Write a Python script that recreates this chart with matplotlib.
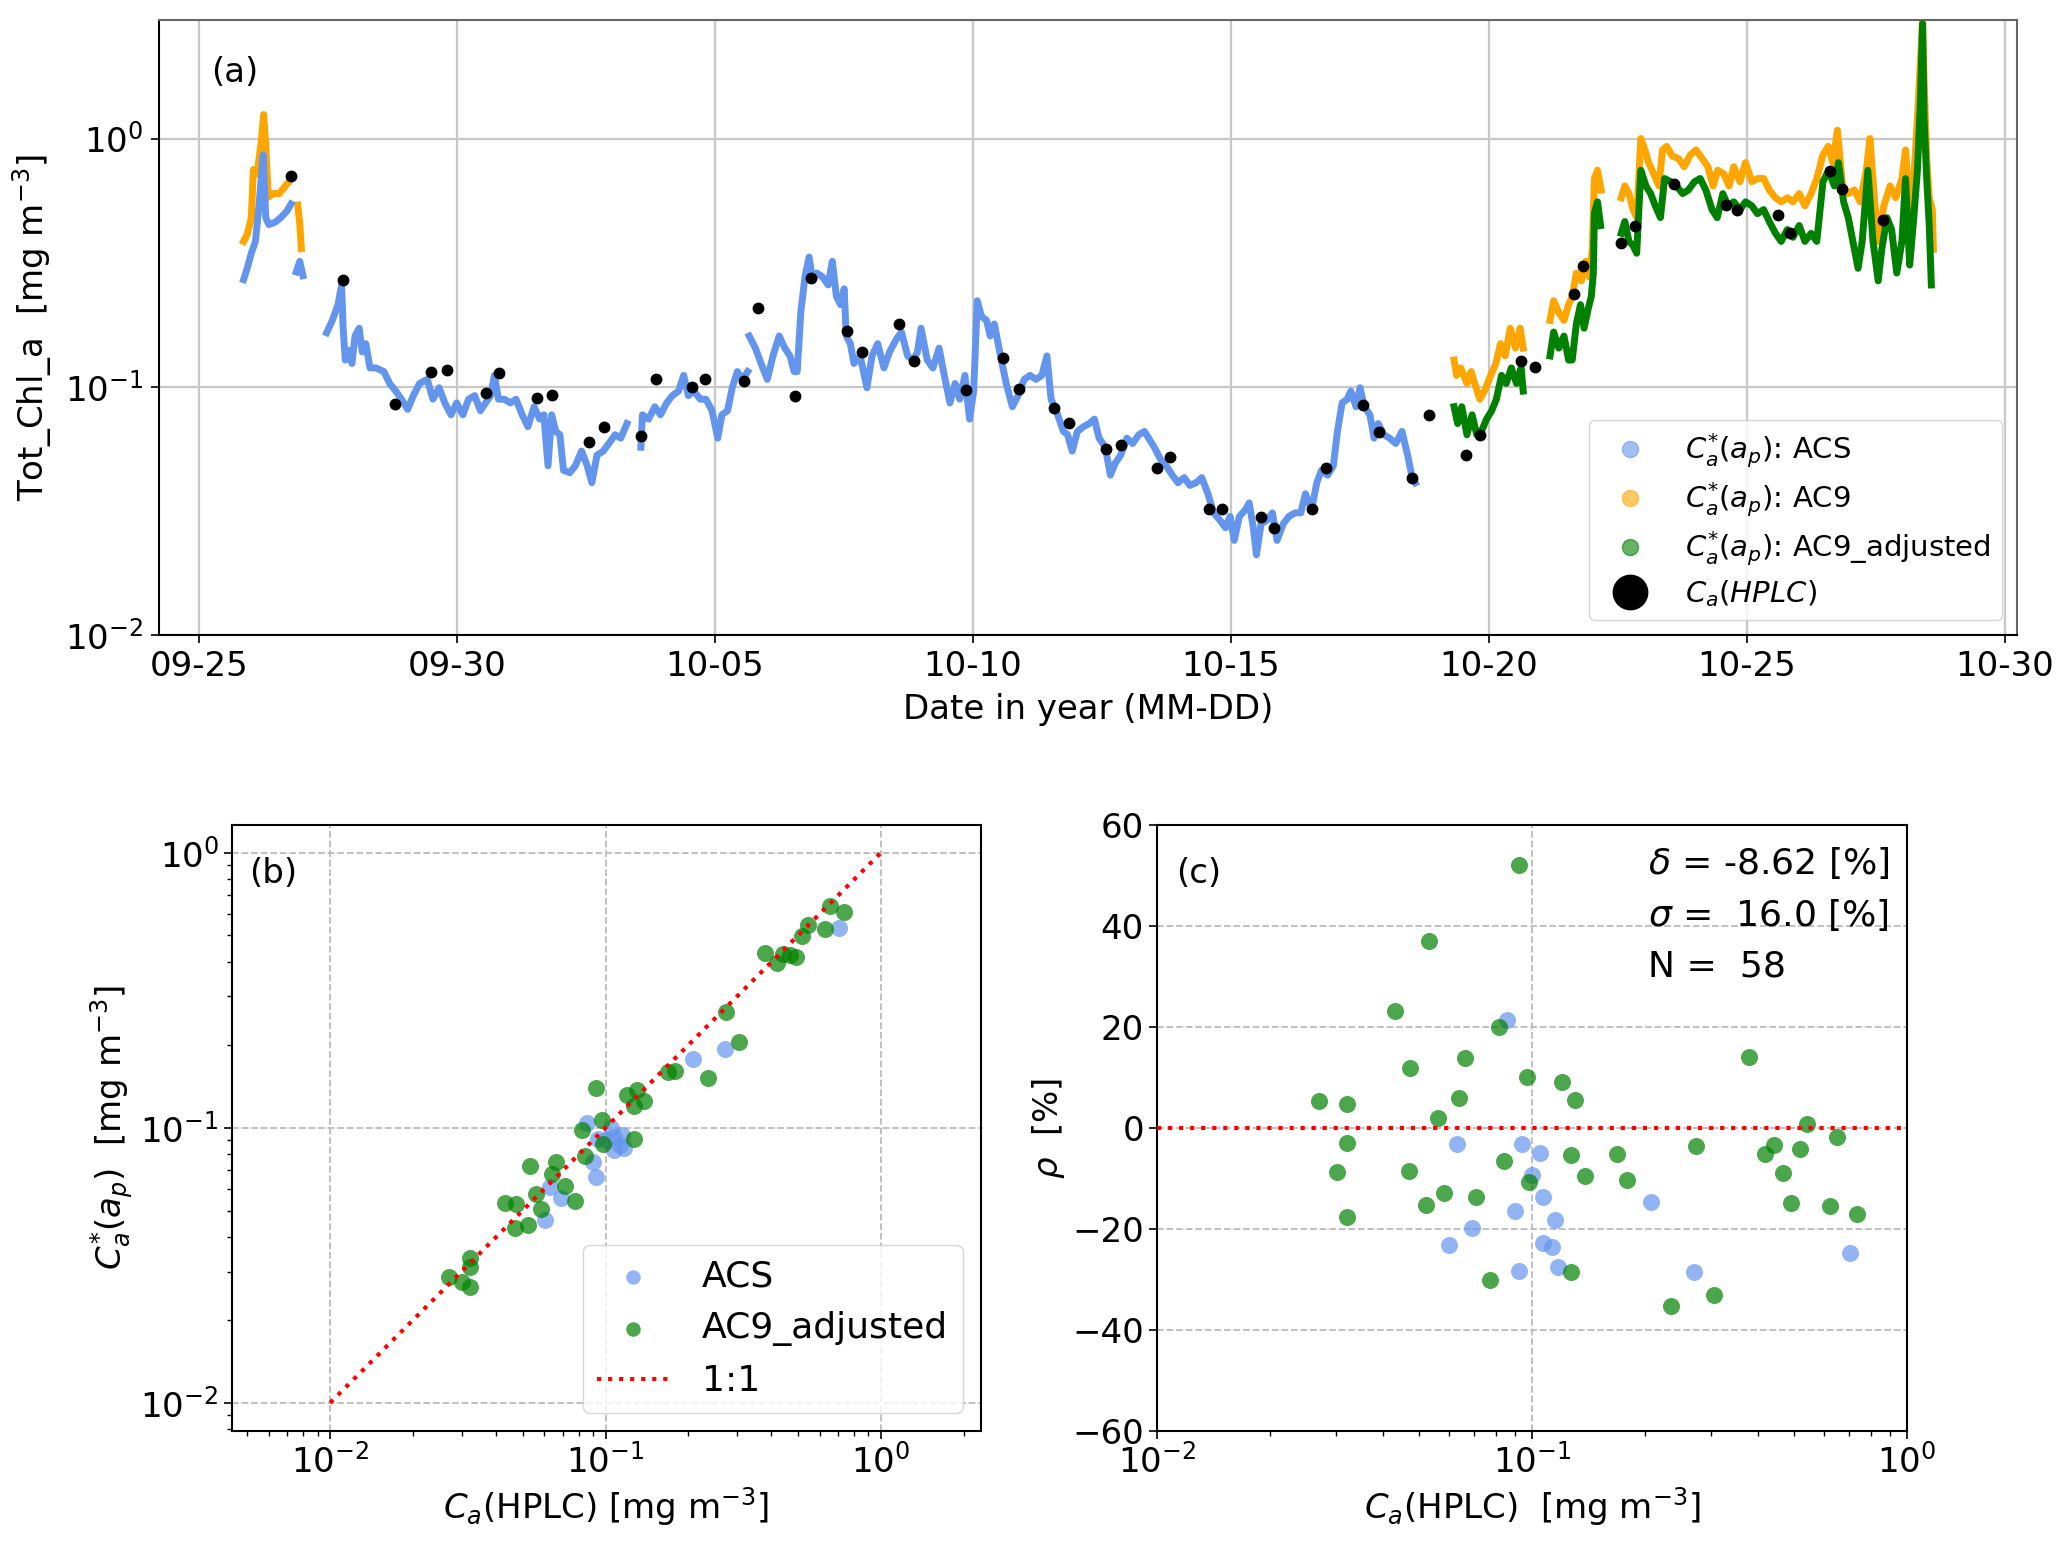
import numpy as np
import pandas as pd
import matplotlib
matplotlib.use('Agg')
import matplotlib.pyplot as plt
import matplotlib.dates as mdates
from matplotlib.lines import Line2D
from matplotlib.ticker import NullLocator

# ---- panel (a): time series, days since 2018-09-25 00:00, values in mg m-3
# each series is a list of continuous segments (days, values)
acs_segments = [
    ([0.87, 0.94, 1.02, 1.10, 1.17, 1.25, 1.30, 1.36, 1.48, 1.59, 1.71, 1.79],
     [0.27, 0.30, 0.345, 0.385, 0.54, 0.86, 0.48, 0.45, 0.46, 0.48, 0.51, 0.545]),
    ([1.89, 1.96, 2.02],
     [0.29, 0.32, 0.28]),
    ([2.48, 2.59, 2.70, 2.77, 2.80, 2.84, 2.90, 2.97, 3.03, 3.11, 3.17, 3.24, 3.32, 3.43,
      3.59, 3.70, 3.82, 3.93, 4.05, 4.16, 4.28, 4.43, 4.54, 4.66, 4.77, 4.89, 5.00, 5.12,
      5.23, 5.35, 5.46, 5.56, 5.66, 5.73, 5.81, 5.92, 6.04, 6.15, 6.27, 6.38, 6.50, 6.61,
      6.69, 6.77, 6.84, 6.92, 7.00, 7.07, 7.19, 7.30, 7.42, 7.53, 7.62, 7.72, 7.84, 7.95,
      8.07, 8.18, 8.30],
     [0.165, 0.185, 0.214, 0.257, 0.172, 0.128, 0.14, 0.124, 0.16, 0.172, 0.138, 0.149,
      0.119, 0.119, 0.115, 0.103, 0.096, 0.089, 0.081, 0.092, 0.103, 0.107, 0.089, 0.099,
      0.086, 0.077, 0.086, 0.077, 0.089, 0.092, 0.080, 0.086, 0.092, 0.111, 0.089, 0.089,
      0.086, 0.089, 0.077, 0.069, 0.083, 0.074, 0.077, 0.048, 0.077, 0.066, 0.064, 0.046,
      0.045, 0.048, 0.055, 0.048, 0.041, 0.053, 0.055, 0.059, 0.064, 0.062, 0.071]),
    ([8.57, 8.60, 8.72, 8.84, 8.95, 9.07, 9.18, 9.30, 9.40, 9.49, 9.60, 9.72, 9.83, 9.95,
      10.06, 10.14, 10.25, 10.34, 10.44, 10.54, 10.64],
     [0.057, 0.077, 0.074, 0.083, 0.077, 0.086, 0.092, 0.096, 0.111, 0.092, 0.096, 0.089,
      0.089, 0.080, 0.062, 0.077, 0.080, 0.099, 0.115, 0.107, 0.115]),
    ([10.67, 10.79, 10.90, 11.02, 11.13, 11.25, 11.36, 11.46, 11.54, 11.60, 11.67, 11.75,
      11.83, 11.90, 11.98, 12.09, 12.20, 12.28, 12.36, 12.44, 12.51, 12.55, 12.63, 12.70,
      12.82, 12.95, 13.05, 13.16, 13.28, 13.39, 13.51, 13.62, 13.74, 13.85, 13.93, 14.00,
      14.12, 14.23, 14.35, 14.45, 14.56, 14.66, 14.75, 14.85, 14.94, 15.02, 15.09, 15.17,
      15.27, 15.34, 15.42, 15.54, 15.65, 15.77, 15.88, 16.00, 16.11, 16.23, 16.34, 16.44,
      16.52, 16.62, 16.76, 16.84, 16.93, 17.03, 17.15, 17.26, 17.36, 17.45, 17.57, 17.67,
      17.76, 17.87, 17.99, 18.10, 18.22, 18.33, 18.41, 18.52, 18.64, 18.75, 18.87, 18.98,
      19.10, 19.21, 19.33, 19.44, 19.56, 19.67, 19.79, 19.90, 19.99, 20.07, 20.17, 20.29,
      20.36, 20.44, 20.50, 20.59, 20.71, 20.81, 20.90, 21.02, 21.13, 21.25, 21.36, 21.45,
      21.57, 21.67, 21.76, 21.88, 21.99, 22.07, 22.16, 22.26, 22.33, 22.43, 22.51, 22.59,
      22.70, 22.78, 22.86, 22.97, 23.08, 23.20, 23.32, 23.43, 23.51, 23.58],
     [0.16, 0.143, 0.124, 0.107, 0.133, 0.16, 0.143, 0.133, 0.115, 0.115, 0.20, 0.277,
      0.333, 0.267, 0.287, 0.277, 0.257, 0.32, 0.231, 0.214, 0.248, 0.16, 0.149, 0.124,
      0.133, 0.099, 0.133, 0.149, 0.119, 0.138, 0.154, 0.166, 0.133, 0.128, 0.138, 0.172,
      0.128, 0.119, 0.143, 0.111, 0.086, 0.103, 0.089, 0.111, 0.074, 0.096, 0.222, 0.192,
      0.185, 0.16, 0.179, 0.133, 0.103, 0.083, 0.092, 0.107, 0.111, 0.107, 0.111, 0.133,
      0.089, 0.080, 0.066, 0.064, 0.055, 0.066, 0.069, 0.071, 0.074, 0.062, 0.057, 0.044,
      0.049, 0.053, 0.062, 0.059, 0.064, 0.066, 0.062, 0.057, 0.051, 0.048, 0.044, 0.041,
      0.043, 0.040, 0.041, 0.043, 0.037, 0.031, 0.029, 0.027, 0.030, 0.024, 0.030, 0.032,
      0.034, 0.027, 0.021, 0.028, 0.029, 0.031, 0.024, 0.028, 0.030, 0.031, 0.031, 0.037,
      0.032, 0.041, 0.046, 0.044, 0.048, 0.066, 0.086, 0.089, 0.096, 0.083, 0.099, 0.083,
      0.077, 0.062, 0.071, 0.064, 0.062, 0.059, 0.066, 0.053, 0.044, 0.041]),
]

ac9_segments = [
    ([0.87, 0.94, 1.02, 1.06, 1.13, 1.21, 1.26, 1.30, 1.35, 1.44, 1.56, 1.67, 1.75],
     [0.385, 0.41, 0.48, 0.75, 0.72, 0.96, 1.25, 0.93, 0.58, 0.60, 0.60, 0.64, 0.67]),
    ([1.92, 1.96, 1.99],
     [0.54, 0.45, 0.36]),
    ([24.33, 24.38, 24.46, 24.58, 24.66, 24.73, 24.83, 24.92, 25.04, 25.14, 25.23, 25.32,
      25.42, 25.52, 25.61, 25.67],
     [0.128, 0.111, 0.119, 0.103, 0.115, 0.103, 0.089, 0.096, 0.111, 0.124, 0.149, 0.133,
      0.172, 0.143, 0.172, 0.143]),
    ([26.19, 26.26, 26.36, 26.46, 26.55, 26.62, 26.70, 26.80, 26.88, 26.95, 27.01, 27.05,
      27.11, 27.18],
     [0.185, 0.222, 0.199, 0.185, 0.214, 0.231, 0.287, 0.267, 0.32, 0.277, 0.358, 0.69,
      0.745, 0.62]),
    ([27.57, 27.64, 27.72, 27.80, 27.87, 27.95, 28.03, 28.10, 28.20, 28.30, 28.37, 28.45,
      28.56, 28.68, 28.79, 28.91, 29.02, 29.14, 29.25, 29.35, 29.44, 29.56, 29.66, 29.75,
      29.87, 29.98, 30.10, 30.21, 30.33, 30.44, 30.56, 30.67, 30.79, 30.90, 31.02, 31.13,
      31.25, 31.36, 31.48, 31.58, 31.67, 31.76, 31.86, 31.97, 32.09, 32.20, 32.32, 32.39,
      32.47, 32.55, 32.66, 32.78, 32.89, 33.01, 33.08, 33.16, 33.24, 33.31, 33.37, 33.41,
      33.44, 33.49, 33.54, 33.60, 33.62],
     [0.577, 0.644, 0.60, 0.517, 0.48, 1.0, 0.90, 0.80, 0.72, 0.644, 0.90, 0.93,
      0.85, 0.83, 0.77, 0.86, 0.90, 0.83, 0.77, 0.644, 0.745, 0.72, 0.644, 0.77,
      0.67, 0.80, 0.67, 0.69, 0.69, 0.62, 0.577, 0.556, 0.577, 0.556, 0.60, 0.536,
      0.60, 0.69, 0.86, 0.93, 0.80, 1.08, 0.644, 0.60, 0.62, 0.556, 0.745, 1.0,
      0.60, 0.385, 0.536, 0.644, 0.577, 0.69, 0.90, 0.517, 0.69, 1.2, 2.08, 3.0,
      1.73, 0.83, 0.577, 0.517, 0.358]),
]

ac9adj_segments = [
    ([24.33, 24.40, 24.48, 24.58, 24.68, 24.77, 24.86, 24.96, 25.06, 25.15, 25.25, 25.34,
      25.44, 25.54, 25.63, 25.67],
     [0.083, 0.071, 0.083, 0.064, 0.077, 0.064, 0.066, 0.074, 0.080, 0.089, 0.111, 0.103,
      0.119, 0.103, 0.119, 0.096]),
    ([26.19, 26.26, 26.36, 26.46, 26.55, 26.62, 26.70, 26.78, 26.85, 26.93, 26.99, 27.03,
      27.05, 27.11, 27.17],
     [0.133, 0.166, 0.143, 0.16, 0.128, 0.128, 0.179, 0.214, 0.172, 0.206, 0.231, 0.287,
      0.50, 0.556, 0.446]),
    ([27.57, 27.64, 27.72, 27.80, 27.87, 27.95, 28.05, 28.14, 28.23, 28.33, 28.41, 28.53,
      28.64, 28.76, 28.87, 28.99, 29.10, 29.21, 29.33, 29.43, 29.54, 29.64, 29.75, 29.87,
      29.98, 30.10, 30.21, 30.33, 30.44, 30.56, 30.67, 30.79, 30.90, 31.02, 31.13, 31.25,
      31.36, 31.48, 31.59, 31.70, 31.78, 31.88, 31.97, 32.06, 32.16, 32.24, 32.35, 32.45,
      32.55, 32.62, 32.72, 32.81, 32.91, 33.01, 33.08, 33.16, 33.24, 33.31, 33.37, 33.41,
      33.44, 33.49, 33.54, 33.58],
     [0.415, 0.463, 0.385, 0.37, 0.345, 0.745, 0.644, 0.60, 0.536, 0.48, 0.69, 0.67,
      0.644, 0.60, 0.62, 0.67, 0.69, 0.62, 0.517, 0.48, 0.60, 0.536, 0.556, 0.517,
      0.556, 0.536, 0.498, 0.517, 0.463, 0.415, 0.385, 0.43, 0.40, 0.446, 0.385, 0.415,
      0.385, 0.67, 0.745, 0.644, 0.80, 0.556, 0.48, 0.385, 0.30, 0.385, 0.745, 0.385,
      0.267, 0.358, 0.48, 0.43, 0.287, 0.385, 0.69, 0.309, 0.48, 0.745, 1.44, 2.9,
      1.2, 0.69, 0.446, 0.257]),
]

hplc_days = [1.79, 2.80, 3.80, 4.51, 4.81, 5.56, 5.82, 6.56, 6.85, 7.57, 7.85, 8.57, 8.87,
             9.56, 9.82, 10.57, 10.84, 11.56, 11.87, 12.57, 12.85, 13.57, 13.86, 14.87,
             15.58, 15.90, 16.58, 16.87, 17.58, 17.88, 18.58, 18.83, 19.58, 19.84, 20.58,
             20.84, 21.57, 21.84, 22.57, 22.87, 23.51, 23.84, 24.56, 24.83, 25.62, 25.89,
             26.65, 26.83, 27.57, 27.84, 28.60, 29.60, 29.82, 30.61, 30.85, 31.62, 31.84,
             32.64]
hplc_vals = [0.706, 0.27, 0.0851, 0.115, 0.117, 0.094, 0.113, 0.090, 0.0923, 0.0598, 0.0689,
             0.0632, 0.107, 0.100, 0.107, 0.105, 0.208, 0.0916, 0.273, 0.168, 0.138, 0.179,
             0.127, 0.0968, 0.130, 0.098, 0.0817, 0.0711, 0.056, 0.058, 0.047, 0.0521, 0.032,
             0.032, 0.0299, 0.0269, 0.032, 0.047, 0.0841, 0.0658, 0.043, 0.077, 0.0528, 0.064,
             0.127, 0.120, 0.237, 0.306, 0.381, 0.443, 0.656, 0.542, 0.517, 0.493, 0.418,
             0.738, 0.625, 0.470]

# ---- panels (b) and (c): matchups
acs_hplc = [0.0855, 0.0631, 0.094, 0.105, 0.100, 0.107, 0.208, 0.0898, 0.115, 0.0692,
            0.0601, 0.107, 0.113, 0.0923, 0.117, 0.271, 0.705]
acs_est = [0.1038, 0.0611, 0.0911, 0.0999, 0.0906, 0.0924, 0.178, 0.0751, 0.0941, 0.0555,
           0.0462, 0.0827, 0.0863, 0.0661, 0.0847, 0.193, 0.531]
acs_rho = [21.4, -3.2, -3.1, -4.9, -9.4, -13.6, -14.6, -16.4, -18.2, -19.8,
           -23.2, -22.7, -23.6, -28.4, -27.6, -28.6, -24.7]

adj_hplc = [0.0923, 0.0531, 0.0432, 0.0818, 0.0661, 0.0472, 0.0968, 0.120, 0.130, 0.380,
            0.0271, 0.0321, 0.0640, 0.0561, 0.542, 0.0321, 0.274, 0.652, 0.442, 0.418,
            0.518, 0.127, 0.168, 0.0841, 0.0301, 0.0471, 0.138, 0.179, 0.098, 0.468,
            0.0581, 0.0710, 0.0521, 0.490, 0.624, 0.735, 0.0321, 0.0773, 0.127, 0.235, 0.306]
adj_est = [0.140, 0.0728, 0.0532, 0.0982, 0.0752, 0.0528, 0.1066, 0.131, 0.137, 0.433,
           0.0286, 0.0336, 0.0678, 0.0572, 0.546, 0.0311, 0.264, 0.641, 0.427, 0.396,
           0.496, 0.120, 0.159, 0.0786, 0.0275, 0.0431, 0.125, 0.161, 0.0876, 0.426,
           0.0507, 0.0613, 0.0442, 0.417, 0.528, 0.609, 0.0264, 0.0540, 0.0907, 0.152, 0.205]
adj_rho = [52.1, 37.1, 23.2, 20.1, 13.8, 11.9, 10.1, 9.2, 5.6, 14.0,
           5.4, 4.7, 6.0, 1.9, 0.7, -3.0, -3.6, -1.7, -3.3, -5.2,
           -4.2, -5.3, -5.2, -6.5, -8.8, -8.5, -9.6, -10.3, -10.6, -8.9,
           -12.8, -13.6, -15.2, -14.9, -15.4, -17.1, -17.6, -30.1, -28.6, -35.2, -33.1]

stats_text = [r'$\delta$ = -8.62 [%]', r'$\sigma$ =  16.0 [%]', 'N =  58']

t0 = pd.Timestamp('2018-09-25')


def to_dates(days):
    return t0 + pd.to_timedelta(np.asarray(days), unit='D')


FS = 24.5
plt.rcParams['font.family'] = 'DejaVu Sans'
plt.rcParams['mathtext.fontset'] = 'dejavusans'

fig = plt.figure(figsize=(20.67, 15.52), dpi=100)

# ================= (a)
ax = fig.add_axes([0.0769, 0.591, 0.8989, 0.396])
for d, v in ac9_segments:
    ax.plot(to_dates(d), v, color='orange', lw=5, solid_joinstyle='round', zorder=2)
for d, v in acs_segments:
    ax.plot(to_dates(d), v, color='cornflowerblue', lw=5, solid_joinstyle='round', zorder=3)
for d, v in ac9adj_segments:
    ax.plot(to_dates(d), v, color='green', lw=5, solid_joinstyle='round', zorder=4)
ax.plot(to_dates(hplc_days), hplc_vals, 'o', color='black', ms=7.5, zorder=5)

ax.set_yscale('log')
ax.set_ylim(0.01, 3.0)
ax.yaxis.set_minor_locator(NullLocator())
ax.set_xlim(t0 - pd.Timedelta(days=0.77), t0 + pd.Timedelta(days=35.24))
ax.set_xticks(pd.date_range('2018-09-25', '2018-10-30', freq='5D'))
ax.xaxis.set_major_formatter(mdates.DateFormatter('%m-%d'))
ax.grid(True, color='#c8c8c8', lw=1.6)
ax.tick_params(labelsize=FS, length=6, width=1.2, pad=5)
ax.set_xlabel('Date in year (MM-DD)', fontsize=FS, labelpad=7)
ax.set_ylabel('Tot_Chl_a  [mg m$^{-3}$]', fontsize=FS, labelpad=8)
for s in ['top', 'right']:
    ax.spines[s].set_color('#666666')
for s in ax.spines.values():
    s.set_linewidth(1.5)
ax.text(0.028, 0.915, '(a)', transform=ax.transAxes, fontsize=FS, va='center')

handles = [
    Line2D([], [], ls='none', marker='o', ms=3.5, color='cornflowerblue', alpha=0.6),
    Line2D([], [], ls='none', marker='o', ms=3.5, color='orange', alpha=0.6),
    Line2D([], [], ls='none', marker='o', ms=3.5, color='green', alpha=0.6),
    Line2D([], [], ls='none', marker='o', ms=7.5, color='black'),
]
labels = [r'$C^{*}_{a}(a_p)$: ACS', r'$C^{*}_{a}(a_p)$: AC9',
          r'$C^{*}_{a}(a_p)$: AC9_adjusted', r'$C_a(HPLC)$']
ax.legend(handles, labels, loc='lower right', fontsize=21, markerscale=3.3,
          labelspacing=0.35, borderaxespad=0.5, handletextpad=0.9)

# ================= (b)
axb = fig.add_axes([0.1122, 0.0780, 0.3622, 0.3904])
axb.scatter(acs_hplc, acs_est, s=150, color='cornflowerblue', alpha=0.7, lw=0,
            label='ACS', zorder=3)
axb.scatter(adj_hplc, adj_est, s=150, color='green', alpha=0.7, lw=0,
            label='AC9_adjusted', zorder=3)
axb.plot([0.01, 1], [0.01, 1], ':', color='red', lw=3, label='1:1', zorder=4)
axb.set_xscale('log')
axb.set_yscale('log')
axb.set_xlim(0.0044, 2.3)
axb.set_ylim(0.0079, 1.26)
axb.grid(True, ls='--', color='#bbbbbb', lw=1.3)
axb.tick_params(which='major', labelsize=FS, length=6, width=1.2)
axb.tick_params(which='minor', length=3.5, width=1)
axb.set_xlabel('$C_a$(HPLC) [mg m$^{-3}$]', fontsize=FS)
axb.set_ylabel('$C^{*}_{a}(a_p)$  [mg m$^{-3}$]', fontsize=FS)
for s in axb.spines.values():
    s.set_linewidth(1.5)
axb.text(0.023, 0.92, '(b)', transform=axb.transAxes, fontsize=FS, va='center')
axb.legend(loc='lower right', fontsize=26, markerscale=0.85, handlelength=2.0,
           labelspacing=0.5, borderaxespad=0.5, handletextpad=0.9)

# ================= (c)
axc = fig.add_axes([0.5598, 0.0780, 0.3628, 0.3904])
axc.scatter(acs_hplc, acs_rho, s=150, color='cornflowerblue', alpha=0.7, lw=0, zorder=3)
axc.scatter(adj_hplc, adj_rho, s=150, color='green', alpha=0.7, lw=0, zorder=3)
axc.axhline(0, ls=':', color='red', lw=3, zorder=4)
axc.set_xscale('log')
axc.set_xlim(0.01, 1)
axc.set_ylim(-60, 60)
axc.set_yticks([-60, -40, -20, 0, 20, 40, 60])
axc.grid(True, ls='--', color='#bbbbbb', lw=1.3)
axc.tick_params(which='major', labelsize=FS, length=6, width=1.2)
axc.tick_params(which='minor', length=3.5, width=1)
axc.set_xlabel('$C_a$(HPLC)  [mg m$^{-3}$]', fontsize=FS)
axc.set_ylabel(r'$\rho$  [%]', fontsize=FS)
for s in axc.spines.values():
    s.set_linewidth(1.5)
axc.text(0.026, 0.92, '(c)', transform=axc.transAxes, fontsize=FS, va='center')
for yy, txt in zip([0.937, 0.852, 0.767], stats_text):
    axc.text(0.654, yy, txt, transform=axc.transAxes, fontsize=26, va='center')

fig.savefig('out.png', dpi=100)
